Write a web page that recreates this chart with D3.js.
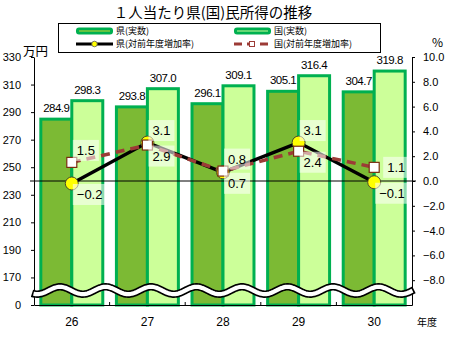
<!DOCTYPE html>
<html>
<head>
<meta charset="utf-8">
<script src="https://cdn.jsdelivr.net/npm/d3@7"></script>
<style>
  body { margin: 0; background: #fff; }
  svg { display: block; }
</style>
</head>
<body>
<svg id="chart" width="454" height="340"></svg>
<script>
// 年度（平成）
const years = ["26", "27", "28", "29", "30"];
// 1人当たり所得（万円）
const prefIncome = [284.9, 293.8, 296.1, 305.1, 304.7];
const natIncome  = [298.3, 307.0, 309.1, 316.4, 319.8];
// 対前年度増加率（%）
const prefRate = [-0.2, 3.1, 0.7, 3.1, -0.1];
const natRate  = [1.5, 2.9, 0.8, 2.4, 1.1];
// 左軸（万円）: 下端は省略線付きで「0」と表示
const incomeTicks = [150, 170, 190, 210, 230, 250, 270, 290, 310, 330];
const incomeTickLabels = ["0", "170", "190", "210", "230", "250", "270", "290", "310", "330"];
// 右軸（%）
const rateTicks = [-8, -6, -4, -2, 0, 2, 4, 6, 8, 10];

const JP = "'Noto Sans CJK JP', sans-serif";
const NUM = "'Liberation Sans', Arial, sans-serif";

const svg = d3.select("#chart");
const plot = { left: 34, right: 412, top: 57, bottom: 305 };

const x0 = d3.scaleBand().domain(years).range([plot.left, plot.right]).paddingInner(0).paddingOuter(0);
const x1 = d3.scaleBand().domain(["pref", "nat"]).range([0, x0.bandwidth()]).paddingInner(0).paddingOuter(0.22);
const yL = d3.scaleLinear().domain([150, 330]).range([plot.bottom, plot.top]);
const yR = d3.scaleLinear().domain([-10, 10]).range([plot.bottom, plot.top]);
const cx = i => x0(years[i]) + x0.bandwidth() / 2;

const colors = {
  prefFill: "#7CBA34",
  natFill: "#CCFF99",
  barStroke: "#00B050",
  prefLine: "#000000",
  natLine: "#9C3B36",
  marker: "#FFFF00"
};

// タイトル
svg.append("text")
  .attr("x", 213).attr("y", 18)
  .attr("text-anchor", "middle")
  .style("font-family", JP).style("font-size", "14.5px")
  .text("１人当たり県(国)民所得の推移");

// 凡例
const lg = svg.append("g");
lg.append("rect").attr("x", 58.5).attr("y", 23.5).attr("width", 322).attr("height", 29)
  .attr("fill", "#fff").attr("stroke", "#000").attr("stroke-width", 1);

function legendBar(x, y, inner) {
  lg.append("rect").attr("x", x).attr("y", y - 3.5).attr("width", 37).attr("height", 7)
    .attr("rx", 3).attr("fill", colors.barStroke);
  lg.append("line").attr("x1", x + 3).attr("x2", x + 34).attr("y1", y).attr("y2", y)
    .attr("stroke", inner).attr("stroke-width", 1);
}
legendBar(76, 31, "#C8D830");
legendBar(234, 31, colors.natFill);

lg.append("line").attr("x1", 76).attr("x2", 113).attr("y1", 44).attr("y2", 44)
  .attr("stroke", colors.prefLine).attr("stroke-width", 3);
lg.append("circle").attr("cx", 94.5).attr("cy", 44).attr("r", 2.8)
  .attr("fill", colors.marker).attr("stroke", "#555").attr("stroke-width", 0.8);

lg.append("line").attr("x1", 234).attr("x2", 271).attr("y1", 44).attr("y2", 44)
  .attr("stroke", colors.natLine).attr("stroke-width", 3).attr("stroke-dasharray", "8,5");
lg.append("rect").attr("x", 249.5).attr("y", 41.5).attr("width", 5).attr("height", 5)
  .attr("fill", "#fff").attr("stroke", colors.natLine).attr("stroke-width", 1);

const legendTexts = [
  { x: 116, y: 31, t: "県(実数)" },
  { x: 274, y: 31, t: "国(実数)" },
  { x: 116, y: 44, t: "県(対前年度増加率)" },
  { x: 274, y: 44, t: "国(対前年度増加率)" }
];
lg.selectAll("text.lt").data(legendTexts).join("text")
  .attr("class", "lt")
  .attr("x", d => d.x).attr("y", d => d.y).attr("dy", "0.36em")
  .style("font-family", JP).style("font-size", "9px")
  .text(d => d.t);

// 棒グラフ
const bars = svg.append("g");
years.forEach((yr, i) => {
  [["pref", prefIncome[i], colors.prefFill], ["nat", natIncome[i], colors.natFill]].forEach(([k, v, fill]) => {
    bars.append("rect")
      .attr("x", x0(yr) + x1(k))
      .attr("y", yL(v))
      .attr("width", x1.bandwidth())
      .attr("height", plot.bottom - yL(v))
      .attr("fill", fill)
      .attr("stroke", colors.barStroke)
      .attr("stroke-width", 3);
    bars.append("text")
      .attr("x", x0(yr) + x1(k) + x1.bandwidth() / 2)
      .attr("y", yL(v) - 7)
      .attr("text-anchor", "middle")
      .style("font-family", NUM).style("font-size", "11.5px")
      .style("letter-spacing", "-0.5px")
      .text(d3.format(".1f")(v));
  });
});

// 軸
const axL = svg.append("g").attr("transform", `translate(${plot.left},0)`)
  .call(d3.axisLeft(yL).tickValues(incomeTicks).tickFormat((d, i) => incomeTickLabels[i])
    .tickSize(3).tickSizeOuter(0).tickPadding(10));
const axR = svg.append("g").attr("transform", `translate(${plot.right},0)`)
  .call(d3.axisRight(yR).tickValues(rateTicks).tickFormat(d3.format(".1f"))
    .tickSize(3).tickSizeOuter(0).tickPadding(8));
const axB = svg.append("g").attr("transform", `translate(0,${plot.bottom})`)
  .call(d3.axisBottom(x0).tickSize(0).tickPadding(12));
[axL, axR, axB].forEach(a => {
  a.selectAll("path.domain").attr("stroke", "#000").attr("stroke-width", 1);
  a.selectAll(".tick line").attr("stroke", "#000");
  a.selectAll("text").attr("fill", "#000").style("font-family", NUM).style("font-size", "11px");
});
axB.selectAll("text").style("font-size", "12px");
// 年度の区切り目盛
svg.append("g").selectAll("line").data(years.slice(0, -1)).join("line")
  .attr("x1", d => x0(d) + x0.bandwidth()).attr("x2", d => x0(d) + x0.bandwidth())
  .attr("y1", plot.bottom - 3).attr("y2", plot.bottom)
  .attr("stroke", "#000");

// 軸の単位
svg.append("text").attr("x", 23).attr("y", 56)
  .style("font-family", JP).style("font-size", "12.5px").text("万円");
svg.append("text").attr("x", 432).attr("y", 47)
  .style("font-family", JP).style("font-size", "12px").text("%");
svg.append("text").attr("x", 417).attr("y", 326)
  .style("font-family", JP).style("font-size", "10px").text("年度");

// 省略線（波線）
const waveY = 290.5, waveAmp = 3.7, wavePeriod = 45.5, waveCrest = 60;
const waveLine = d3.line().curve(d3.curveBasis);
const wavePts = (a, b) => d3.range(a, b + 0.5, 1).map(x =>
  [x, waveY - waveAmp * Math.cos(2 * Math.PI * (x - waveCrest) / wavePeriod)]);
svg.append("path").attr("d", waveLine(wavePts(32, 414)))
  .attr("fill", "none").attr("stroke", "#000").attr("stroke-width", 7.5);
svg.append("path").attr("d", waveLine(wavePts(33.5, 412.5)))
  .attr("fill", "none").attr("stroke", "#fff").attr("stroke-width", 4.2);

// 0%の基準線
svg.append("line")
  .attr("x1", 30).attr("x2", 416)
  .attr("y1", yR(0)).attr("y2", yR(0))
  .attr("stroke", "#000").attr("stroke-width", 1);

// 折れ線
const rateLine = vals => d3.line().x((d, i) => cx(i)).y(d => yR(d))(vals);
svg.append("path").attr("d", rateLine(prefRate))
  .attr("fill", "none").attr("stroke", colors.prefLine).attr("stroke-width", 3.5);
svg.append("path").attr("d", rateLine(natRate))
  .attr("fill", "none").attr("stroke", colors.natLine).attr("stroke-width", 3.5)
  .attr("stroke-dasharray", "9,6");

svg.append("g").selectAll("circle").data(prefRate).join("circle")
  .attr("cx", (d, i) => cx(i)).attr("cy", d => yR(d)).attr("r", 6.5)
  .attr("fill", colors.marker).attr("stroke", "#4a4a2a").attr("stroke-width", 1);
svg.append("g").selectAll("rect").data(natRate).join("rect")
  .attr("x", (d, i) => cx(i) - 5).attr("y", d => yR(d) - 5)
  .attr("width", 10).attr("height", 10)
  .attr("fill", "#fff").attr("stroke", "#7A2E10").attr("stroke-width", 1.2);

// データラベル（高い方を上、低い方を下、最終年度の上側は右）
const fmtRate = d3.format(".1f");
const labelG = svg.append("g");
function rateLabel(i, v, place) {
  const px = cx(i), py = yR(v);
  const t = labelG.append("text")
    .style("font-family", NUM).style("font-size", "13px")
    .attr("dy", "0.36em")
    .text(fmtRate(v));
  const w = t.node().getComputedTextLength() + 8, h = 21;
  let bx, by;
  if (place === "right") { bx = px + 9; by = py - h / 2; }
  else if (place === "above") { bx = px + 1; by = py - 12 - h / 2; }
  else { bx = px + 1; by = py + 11 - h / 2; }
  labelG.insert("rect", () => t.node())
    .attr("x", bx).attr("y", by).attr("width", w).attr("height", h)
    .attr("fill", "#fff").attr("fill-opacity", 0.55);
  t.attr("x", bx + 4).attr("y", by + h / 2);
}
years.forEach((yr, i) => {
  const natHigher = natRate[i] >= prefRate[i];
  const last = i === years.length - 1;
  rateLabel(i, natRate[i], natHigher ? (last ? "right" : "above") : "below");
  rateLabel(i, prefRate[i], natHigher ? "below" : (last ? "right" : "above"));
});
</script>
</body>
</html>
